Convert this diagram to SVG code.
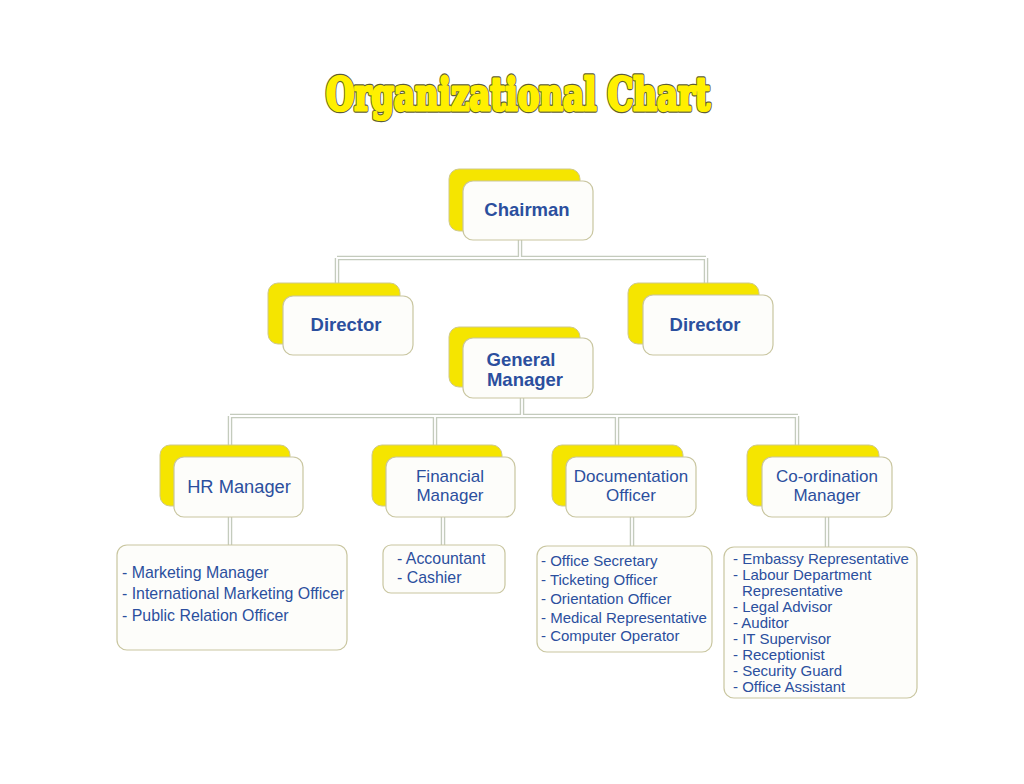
<svg xmlns="http://www.w3.org/2000/svg" width="1024" height="784" viewBox="0 0 1024 784">
<defs>
<style>
.bk{fill:#f5e500;stroke:#cfc98a;stroke-width:1}
.fr{fill:#fdfdfa;stroke:#c9c6a0;stroke-width:1.2}
.lst{fill:#fdfdfa;stroke:#c9c6a0;stroke-width:1.2}
.t{font-family:"Liberation Sans",Arial,sans-serif;fill:#2b4f9e;text-anchor:middle}
.b{font-weight:bold;font-size:18.5px}
.r{font-size:18.3px}
.r2{font-size:17px}
.l{font-family:"Liberation Sans",Arial,sans-serif;fill:#2b4f9e;font-size:15px}
.lg{font-size:15.9px}
.c1{fill:none;stroke:#c4cbbd;stroke-width:4.5}
.c2{fill:none;stroke:#ffffff;stroke-width:1.8}
.ttl{font-family:"DejaVu Serif",serif;font-weight:bold;font-size:44px;text-anchor:middle}
</style>
</defs>
<rect width="1024" height="784" fill="#ffffff"/>
<g id="title">
<text class="ttl" x="518" y="110" textLength="384" lengthAdjust="spacingAndGlyphs" fill="#5e5e35" stroke="#5e5e35" stroke-width="5.5" stroke-linejoin="round">Organizational Chart</text>
<text class="ttl" x="518" y="110" textLength="384" lengthAdjust="spacingAndGlyphs" fill="#fff000" stroke="#fff000" stroke-width="3.2" stroke-linejoin="round">Organizational Chart</text>
</g>

<g id="connectors">
<path class="c1" d="M520 240V258M337 258H706M337 258V284M706 258V284M522 398V416M230 416H798M230 416V446M435 416V446M617 416V446M797 416V446M230 517V546M443 517V546M632 517V547M827 517V548"/>
<path class="c2" d="M520 240V258M337 258H706M337 258V284M706 258V284M522 398V416M230 416H798M230 416V446M435 416V446M617 416V446M797 416V446M230 517V546M443 517V546M632 517V547M827 517V548"/>
</g>

<g id="chairman">
<rect class="bk" x="449" y="169" width="131" height="62" rx="10"/>
<rect class="fr" x="463" y="181" width="130" height="59" rx="10"/>
<text class="t b" x="527" y="216">Chairman</text>
</g>

<g id="director-left">
<rect class="bk" x="268" y="283" width="132" height="61" rx="10"/>
<rect class="fr" x="283" y="296" width="130" height="59" rx="10"/>
<text class="t b" x="346" y="331">Director</text>
</g>

<g id="director-right">
<rect class="bk" x="628" y="283" width="131" height="61" rx="10"/>
<rect class="fr" x="643" y="295" width="130" height="60" rx="10"/>
<text class="t b" x="705" y="331">Director</text>
</g>

<g id="general-manager">
<rect class="bk" x="449" y="327" width="131" height="60" rx="10"/>
<rect class="fr" x="463" y="338" width="130" height="60" rx="10"/>
<text class="t b" x="521" y="365.5">General</text>
<text class="t b" x="525" y="385.5">Manager</text>
</g>

<g id="hr-manager">
<rect class="bk" x="160" y="445" width="130" height="61" rx="10"/>
<rect class="fr" x="174" y="457" width="129" height="60" rx="10"/>
<text class="t r" x="239" y="492.5">HR Manager</text>
</g>

<g id="financial-manager">
<rect class="bk" x="372" y="445" width="130" height="61" rx="10"/>
<rect class="fr" x="386" y="457" width="129" height="60" rx="10"/>
<text class="t r2" x="450" y="481.5">Financial</text>
<text class="t r2" x="450" y="501">Manager</text>
</g>

<g id="documentation-officer">
<rect class="bk" x="552" y="445" width="131" height="61" rx="10"/>
<rect class="fr" x="566" y="457" width="130" height="60" rx="10"/>
<text class="t r2" x="631" y="481.5">Documentation</text>
<text class="t r2" x="631" y="501">Officer</text>
</g>

<g id="coordination-manager">
<rect class="bk" x="747" y="445" width="132" height="61" rx="10"/>
<rect class="fr" x="762" y="457" width="130" height="60" rx="10"/>
<text class="t r2" x="827" y="481.5">Co-ordination</text>
<text class="t r2" x="827" y="501">Manager</text>
</g>

<g id="hr-list">
<rect class="lst" x="117" y="545" width="230" height="105" rx="10"/>
<text class="l lg" x="122" y="578">- Marketing Manager</text>
<text class="l lg" x="122" y="599">- International Marketing Officer</text>
<text class="l lg" x="122" y="621">- Public Relation Officer</text>
</g>

<g id="financial-list">
<rect class="lst" x="383" y="545" width="122" height="48" rx="8"/>
<text class="l lg" x="397" y="564">- Accountant</text>
<text class="l lg" x="397" y="583">- Cashier</text>
</g>

<g id="documentation-list">
<rect class="lst" x="537" y="546" width="175" height="106" rx="10"/>
<text class="l" x="541" y="566">- Office Secretary</text>
<text class="l" x="541" y="585">- Ticketing Officer</text>
<text class="l" x="541" y="604">- Orientation Officer</text>
<text class="l" x="541" y="623">- Medical Representative</text>
<text class="l" x="541" y="641">- Computer Operator</text>
</g>

<g id="coordination-list">
<rect class="lst" x="724" y="547" width="193" height="151" rx="10"/>
<text class="l" x="733" y="564">- Embassy Representative</text>
<text class="l" x="733" y="580">- Labour Department</text>
<text class="l" x="742" y="596">Representative</text>
<text class="l" x="733" y="612">- Legal Advisor</text>
<text class="l" x="733" y="628">- Auditor</text>
<text class="l" x="733" y="644">- IT Supervisor</text>
<text class="l" x="733" y="660">- Receptionist</text>
<text class="l" x="733" y="676">- Security Guard</text>
<text class="l" x="733" y="692">- Office Assistant</text>
</g>
</svg>
